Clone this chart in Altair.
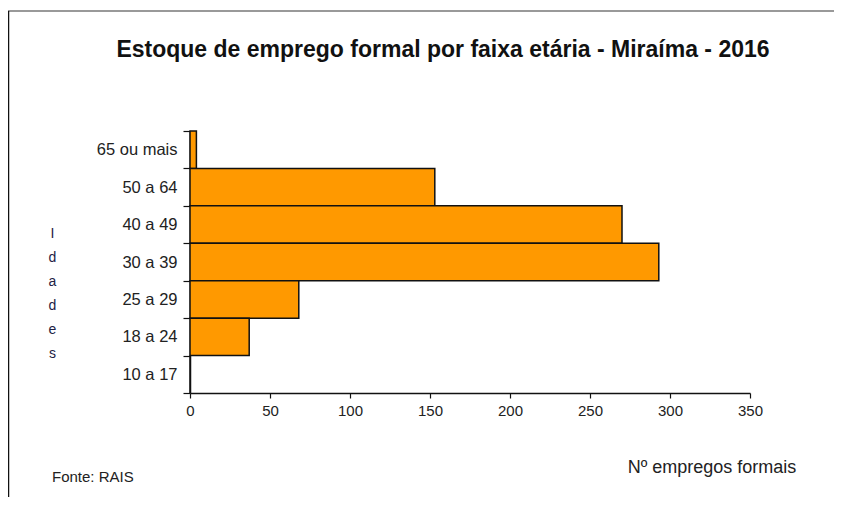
import altair as alt
import pandas as pd

faixas = ["65 ou mais", "50 a 64", "40 a 49", "30 a 39", "25 a 29", "18 a 24", "10 a 17"]
empregos = [4, 153, 270, 293, 68, 37, 0]
x_ticks = [0, 50, 100, 150, 200, 250, 300, 350]
titulo = "Estoque  de emprego formal por faixa etária - Miraíma - 2016"
titulo_y = ["I", "d", "a", "d", "e", "s"]
titulo_x = "Nº empregos formais"
fonte = "Fonte: RAIS"

df = pd.DataFrame({"faixa": faixas, "n": empregos})
FONT = "Liberation Sans"

bars = alt.Chart(df).mark_bar(
    color="#FF9900", stroke="#111111", strokeWidth=1.5
).encode(
    y=alt.Y("faixa:N", sort=faixas,
            scale=alt.Scale(paddingInner=0, paddingOuter=0),
            axis=alt.Axis(title=titulo_y, titleAngle=0, titleFont=FONT,
                          titleFontSize=14, titleFontWeight="normal",
                          titleColor="#222244", titleLineHeight=24,
                          titleX=-138, titleY=102, titleAlign="center",
                          titleBaseline="middle",
                          tickBand="extent", tickSize=7, tickColor="#111111",
                          domainColor="#111111", domainWidth=1.5, tickWidth=1.2,
                          labelFont=FONT, labelFontSize=16.5, labelColor="#222222",
                          labelPadding=6)),
    x=alt.X("n:Q", scale=alt.Scale(domain=[0, 350], nice=False),
            axis=alt.Axis(title=None, values=x_ticks, tickSize=5, grid=False,
                          tickColor="#111111", domainColor="#111111",
                          domainWidth=1.5, tickWidth=1.2,
                          labelFont=FONT, labelFontSize=15, labelColor="#222222",
                          labelPadding=5, labelFlush=False)),
)

one = alt.Data(values=[{"a": 1}])

head = alt.Chart(one).mark_text(
    font=FONT, fontSize=23, fontWeight="bold", color="#111111",
    align="center", baseline="middle"
).encode(x=alt.value(253), y=alt.value(-81), text=alt.value(titulo))

xlab = alt.Chart(one).mark_text(
    font=FONT, fontSize=18, color="#222222", align="center", baseline="middle"
).encode(x=alt.value(522), y=alt.value(337), text=alt.value(titulo_x))

src = alt.Chart(one).mark_text(
    font=FONT, fontSize=15, color="#222222", align="left", baseline="middle"
).encode(x=alt.value(-138), y=alt.value(346), text=alt.value(fonte))

frame_top = alt.Chart(one).mark_rule(color="#777777", strokeWidth=1.5, clip=False).encode(
    x=alt.value(-182), x2=alt.value(700), y=alt.value(-120)
)
frame_left = alt.Chart(one).mark_rule(color="#111111", strokeWidth=1.5, clip=False).encode(
    x=alt.value(-181.5), y=alt.value(-120), y2=alt.value(400)
)

chart = alt.layer(bars, head, xlab, src, frame_top, frame_left).properties(
    width=560,
    height=262,
    background="white",
    autosize=alt.AutoSizeParams(type="none"),
    padding={"left": 182, "top": 123, "right": 84, "bottom": 104},
).configure_view(strokeWidth=0)

chart.save("out.html", embed_options={"renderer": "svg", "actions": False})
